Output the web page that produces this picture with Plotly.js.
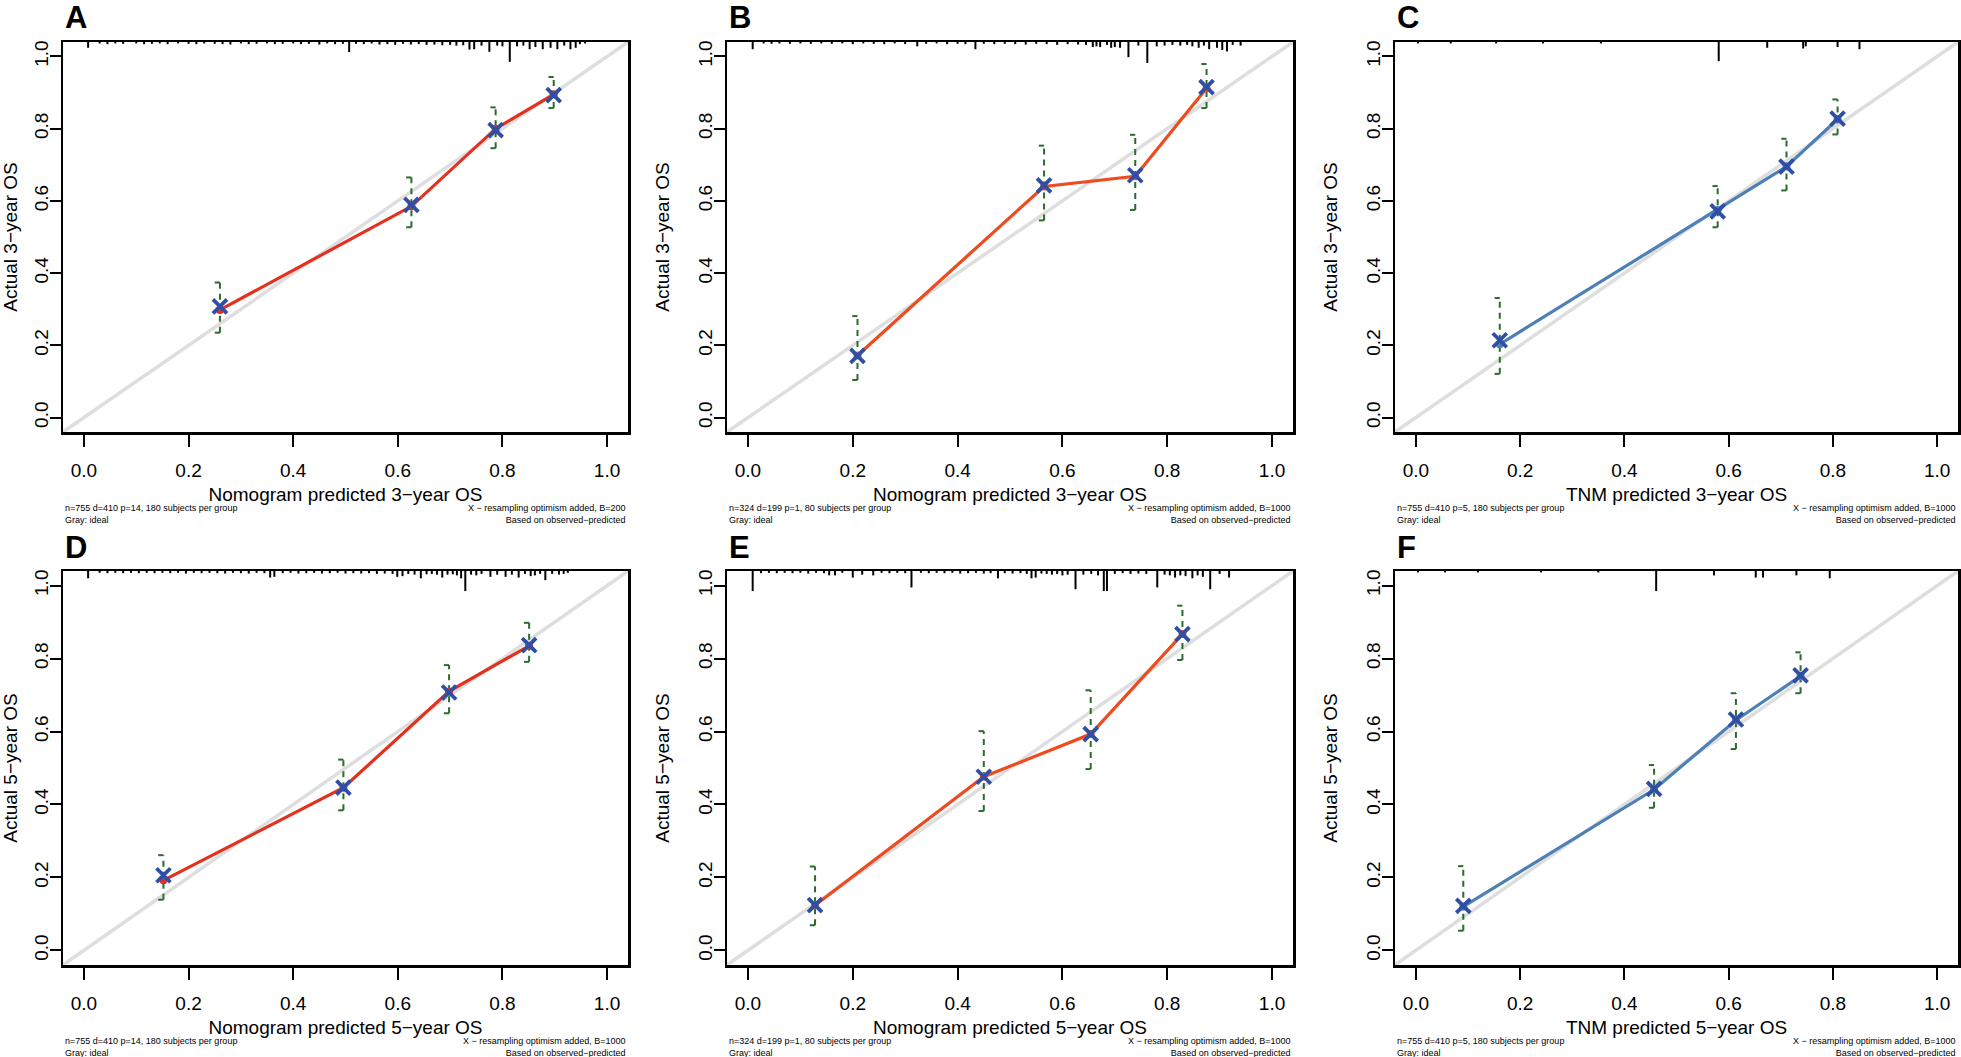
<!DOCTYPE html>
<html>
<head>
<meta charset="utf-8">
<script src="https://cdn.plot.ly/plotly-3.0.1.min.js"></script>
<style>
  body { margin: 0; background: #fff; }
  #chart { width: 1961px; height: 1057px; }
</style>
</head>
<body>
<div id="chart"></div>
<script>
// calibration curves
const tickVals = [0, 0.2, 0.4, 0.6, 0.8, 1.0];
const tickText = ['0.0', '0.2', '0.4', '0.6', '0.8', '1.0'];
const idealLine = [-0.05, 1.05];

const letters = ['A', 'B', 'C', 'D', 'E', 'F'];
const xTitles = [
    'Nomogram predicted 3\u2212year OS', 'Nomogram predicted 3\u2212year OS', 'TNM predicted 3\u2212year OS',
    'Nomogram predicted 5\u2212year OS', 'Nomogram predicted 5\u2212year OS', 'TNM predicted 5\u2212year OS'
];
const yTitles = [
    'Actual 3\u2212year OS', 'Actual 3\u2212year OS', 'Actual 3\u2212year OS',
    'Actual 5\u2212year OS', 'Actual 5\u2212year OS', 'Actual 5\u2212year OS'
];
const notesLeft = [
    'n=755 d=410 p=14, 180 subjects per group',
    'n=324 d=199 p=1, 80 subjects per group',
    'n=755 d=410 p=5, 180 subjects per group',
    'n=755 d=410 p=14, 180 subjects per group',
    'n=324 d=199 p=1, 80 subjects per group',
    'n=755 d=410 p=5, 180 subjects per group'
];
const bootB = [200, 1000, 1000, 1000, 1000, 1000];

// predicted, apparent (line), bias-corrected (X), error bar low / high
const predA = [0.260, 0.626, 0.787, 0.898];
const appA = [0.298, 0.585, 0.800, 0.895];
const corA = [0.308, 0.589, 0.796, 0.893];
const loA = [0.235, 0.527, 0.746, 0.857];
const hiA = [0.374, 0.665, 0.859, 0.943];

const predB = [0.209, 0.565, 0.739, 0.875];
const appB = [0.172, 0.640, 0.668, 0.912];
const corB = [0.171, 0.643, 0.671, 0.915];
const loB = [0.104, 0.546, 0.575, 0.857];
const hiB = [0.281, 0.753, 0.783, 0.979];

const predC = [0.161, 0.579, 0.711, 0.809];
const appC = [0.203, 0.575, 0.695, 0.826];
const corC = [0.214, 0.571, 0.695, 0.828];
const loC = [0.121, 0.527, 0.629, 0.784];
const hiC = [0.331, 0.641, 0.772, 0.881];

const predD = [0.152, 0.496, 0.698, 0.851];
const appD = [0.192, 0.446, 0.710, 0.835];
const corD = [0.206, 0.446, 0.707, 0.837];
const loD = [0.139, 0.384, 0.650, 0.791];
const hiD = [0.261, 0.523, 0.782, 0.898];

const predE = [0.128, 0.450, 0.654, 0.829];
const appE = [0.124, 0.476, 0.593, 0.867];
const corE = [0.124, 0.476, 0.593, 0.867];
const loE = [0.069, 0.382, 0.497, 0.796];
const hiE = [0.230, 0.601, 0.713, 0.945];

const predF = [0.091, 0.457, 0.614, 0.738];
const appF = [0.120, 0.441, 0.631, 0.752];
const corF = [0.122, 0.443, 0.633, 0.754];
const loF = [0.054, 0.391, 0.552, 0.705];
const hiF = [0.231, 0.508, 0.705, 0.817];

// spike histogram of predictions along the top edge (position, spike length)
const rugAx = [0.008, 0.03, 0.045, 0.06, 0.075, 0.1, 0.115, 0.13, 0.145, 0.16, 0.18, 0.2, 0.215, 0.23, 0.25, 0.265, 0.28, 0.3, 0.315, 0.33, 0.35, 0.365, 0.38, 0.4, 0.415, 0.43, 0.45, 0.465, 0.48, 0.495, 0.507, 0.52, 0.535, 0.55, 0.565, 0.58, 0.595, 0.61, 0.625, 0.64, 0.655, 0.67, 0.685, 0.7, 0.712, 0.725, 0.737, 0.746, 0.76, 0.775, 0.79, 0.8, 0.814, 0.828, 0.84, 0.852, 0.863, 0.877, 0.892, 0.905, 0.918, 0.93, 0.94, 0.948, 0.958];
const rugAh = [0.016, 0.004, 0.006, 0.004, 0.005, 0.004, 0.006, 0.005, 0.004, 0.006, 0.004, 0.005, 0.006, 0.004, 0.005, 0.006, 0.007, 0.004, 0.006, 0.005, 0.004, 0.006, 0.005, 0.004, 0.006, 0.005, 0.007, 0.004, 0.006, 0.005, 0.028, 0.005, 0.006, 0.004, 0.007, 0.006, 0.008, 0.005, 0.007, 0.006, 0.008, 0.007, 0.009, 0.008, 0.01, 0.009, 0.021, 0.02, 0.01, 0.027, 0.01, 0.012, 0.055, 0.012, 0.01, 0.02, 0.014, 0.02, 0.016, 0.02, 0.01, 0.02, 0.016, 0.006, 0.004];

const rugBx = [0.009, 0.03, 0.045, 0.06, 0.08, 0.1, 0.12, 0.14, 0.16, 0.18, 0.2, 0.22, 0.24, 0.26, 0.28, 0.3, 0.323, 0.34, 0.36, 0.38, 0.4, 0.415, 0.434, 0.45, 0.47, 0.49, 0.51, 0.53, 0.55, 0.57, 0.59, 0.61, 0.63, 0.645, 0.658, 0.665, 0.672, 0.685, 0.693, 0.7, 0.71, 0.726, 0.745, 0.762, 0.78, 0.795, 0.81, 0.825, 0.838, 0.848, 0.86, 0.87, 0.88, 0.895, 0.905, 0.914, 0.925, 0.94];
const rugBh = [0.02, 0.004, 0.005, 0.004, 0.005, 0.004, 0.005, 0.004, 0.005, 0.004, 0.006, 0.004, 0.005, 0.006, 0.004, 0.006, 0.012, 0.005, 0.004, 0.006, 0.005, 0.006, 0.02, 0.005, 0.006, 0.005, 0.006, 0.007, 0.005, 0.006, 0.008, 0.006, 0.007, 0.008, 0.014, 0.012, 0.014, 0.008, 0.016, 0.014, 0.016, 0.042, 0.01, 0.058, 0.012, 0.01, 0.008, 0.01, 0.008, 0.012, 0.016, 0.01, 0.02, 0.016, 0.022, 0.026, 0.008, 0.01];

const rugCx = [0.004, 0.067, 0.154, 0.244, 0.355, 0.581, 0.674, 0.743, 0.748, 0.809, 0.851];
const rugCh = [0.004, 0.004, 0.004, 0.004, 0.004, 0.053, 0.016, 0.018, 0.012, 0.014, 0.02];

const rugDx = [0.008, 0.03, 0.045, 0.06, 0.075, 0.09, 0.105, 0.12, 0.135, 0.15, 0.165, 0.18, 0.195, 0.21, 0.225, 0.24, 0.255, 0.27, 0.285, 0.3, 0.315, 0.33, 0.345, 0.356, 0.364, 0.38, 0.395, 0.41, 0.425, 0.44, 0.455, 0.47, 0.485, 0.5, 0.515, 0.53, 0.545, 0.56, 0.575, 0.59, 0.599, 0.609, 0.62, 0.632, 0.644, 0.655, 0.665, 0.675, 0.685, 0.695, 0.705, 0.713, 0.721, 0.729, 0.74, 0.75, 0.76, 0.777, 0.79, 0.806, 0.818, 0.831, 0.843, 0.854, 0.862, 0.872, 0.882, 0.895, 0.908, 0.917, 0.925];
const rugDh = [0.02, 0.005, 0.006, 0.005, 0.006, 0.005, 0.006, 0.005, 0.006, 0.005, 0.006, 0.005, 0.007, 0.005, 0.006, 0.005, 0.006, 0.007, 0.005, 0.006, 0.007, 0.005, 0.006, 0.018, 0.016, 0.006, 0.005, 0.007, 0.006, 0.005, 0.007, 0.006, 0.005, 0.007, 0.006, 0.007, 0.006, 0.008, 0.007, 0.008, 0.016, 0.014, 0.008, 0.01, 0.02, 0.009, 0.008, 0.01, 0.018, 0.01, 0.009, 0.012, 0.02, 0.055, 0.01, 0.012, 0.008, 0.016, 0.01, 0.016, 0.01, 0.018, 0.008, 0.014, 0.012, 0.008, 0.025, 0.008, 0.01, 0.008, 0.005];

const rugEx = [0.009, 0.025, 0.04, 0.055, 0.07, 0.085, 0.1, 0.115, 0.13, 0.145, 0.155, 0.166, 0.18, 0.2, 0.218, 0.239, 0.255, 0.27, 0.285, 0.3, 0.312, 0.33, 0.345, 0.36, 0.375, 0.39, 0.405, 0.42, 0.435, 0.45, 0.463, 0.477, 0.49, 0.505, 0.52, 0.532, 0.541, 0.549, 0.56, 0.57, 0.58, 0.59, 0.6, 0.61, 0.625, 0.64, 0.655, 0.668, 0.679, 0.685, 0.7, 0.715, 0.73, 0.745, 0.76, 0.781, 0.795, 0.805, 0.815, 0.825, 0.835, 0.848, 0.858, 0.868, 0.882, 0.9, 0.918];
const rugEh = [0.055, 0.006, 0.005, 0.006, 0.005, 0.006, 0.005, 0.007, 0.005, 0.006, 0.012, 0.012, 0.005, 0.018, 0.01, 0.012, 0.005, 0.006, 0.005, 0.006, 0.045, 0.005, 0.006, 0.005, 0.006, 0.005, 0.007, 0.006, 0.005, 0.007, 0.006, 0.02, 0.006, 0.007, 0.006, 0.008, 0.02, 0.018, 0.007, 0.008, 0.01, 0.008, 0.012, 0.01, 0.05, 0.01, 0.008, 0.012, 0.055, 0.055, 0.008, 0.006, 0.008, 0.007, 0.008, 0.045, 0.01, 0.012, 0.018, 0.012, 0.014, 0.02, 0.012, 0.016, 0.05, 0.008, 0.018];

const rugFx = [0.004, 0.056, 0.119, 0.24, 0.35, 0.461, 0.572, 0.652, 0.666, 0.73, 0.794];
const rugFh = [0.004, 0.004, 0.004, 0.004, 0.004, 0.055, 0.012, 0.018, 0.018, 0.012, 0.02];

const lineColors = ['#e5301d', '#f04a1f', '#4d80b6', '#e5301d', '#f04a1f', '#4d80b6'];

const panels = [
    { pred: predA, app: appA, cor: corA, lo: loA, hi: hiA, rx: rugAx, rh: rugAh },
    { pred: predB, app: appB, cor: corB, lo: loB, hi: hiB, rx: rugBx, rh: rugBh },
    { pred: predC, app: appC, cor: corC, lo: loC, hi: hiC, rx: rugCx, rh: rugCh },
    { pred: predD, app: appD, cor: corD, lo: loD, hi: hiD, rx: rugDx, rh: rugDh },
    { pred: predE, app: appE, cor: corE, lo: loE, hi: hiE, rx: rugEx, rh: rugEh },
    { pred: predF, app: appF, cor: corF, lo: loF, hi: hiF, rx: rugFx, rh: rugFh },
];

// page layout in pixels
const W = 1961, H = 1057;
const cols = [[63, 628], [727, 1293], [1395, 1958]];
const rows = [[42, 432], [571, 965]];
const range = [-0.04, 1.04];
const FONT = 'Liberation Sans, Arial, Helvetica, sans-serif';

const traces = [];
const layout = {
    width: W, height: H,
    margin: { l: 0, r: 0, t: 0, b: 0 },
    paper_bgcolor: 'white', plot_bgcolor: 'white',
    showlegend: false,
    font: { family: FONT, color: 'black' },
    annotations: []
};

panels.forEach((p, i) => {
    const n = i + 1;
    const xa = n === 1 ? 'x' : 'x' + n;
    const ya = n === 1 ? 'y' : 'y' + n;
    const col = cols[i % 3];
    const row = rows[Math.floor(i / 3)];

    layout[n === 1 ? 'xaxis' : 'xaxis' + n] = {
        domain: [col[0] / W, col[1] / W],
        anchor: ya, range: range,
        showline: true, mirror: true, linecolor: 'black', linewidth: 2.5,
        ticks: 'outside', ticklen: 12, tickwidth: 2, tickcolor: 'black',
        tickvals: tickVals, ticktext: tickText,
        tickfont: { size: 19, family: FONT, color: 'black' },
        ticklabelstandoff: 8,
        showgrid: false, zeroline: false,
        title: { text: xTitles[i], font: { size: 19, family: FONT }, standoff: 8 }
    };
    layout[n === 1 ? 'yaxis' : 'yaxis' + n] = {
        domain: [1 - row[1] / H, 1 - row[0] / H],
        anchor: xa, range: range,
        showline: true, mirror: true, linecolor: 'black', linewidth: 2.5,
        ticks: 'outside', ticklen: 11, tickwidth: 2, tickcolor: 'black',
        tickvals: tickVals, ticktext: tickText, tickangle: -90,
        tickfont: { size: 19, family: FONT, color: 'black' },
        ticklabelstandoff: -6,
        showgrid: false, zeroline: false,
        title: { text: yTitles[i], font: { size: 19, family: FONT }, standoff: 21 }
    };

    // ideal line
    traces.push({
        x: idealLine, y: idealLine, xaxis: xa, yaxis: ya,
        mode: 'lines', line: { color: '#dedede', width: 3.5 }, hoverinfo: 'skip'
    });

    // spikes hanging from the top edge
    const sx = [], sy = [];
    p.rx.forEach((v, k) => {
        sx.push(v, v, null);
        sy.push(range[1], range[1] - p.rh[k], null);
    });
    traces.push({
        x: sx, y: sy, xaxis: xa, yaxis: ya,
        mode: 'lines', line: { color: 'black', width: 2 }, hoverinfo: 'skip'
    });

    // error bars: dashed verticals with small caps on the left
    const ex = [], ey = [], cx = [], cy = [];
    p.pred.forEach((v, k) => {
        ex.push(v, v, null);
        ey.push(p.lo[k], p.hi[k], null);
        cx.push(v - 0.01, v, null, v - 0.01, v, null);
        cy.push(p.lo[k], p.lo[k], null, p.hi[k], p.hi[k], null);
    });
    traces.push({
        x: ex, y: ey, xaxis: xa, yaxis: ya,
        mode: 'lines', line: { color: '#2b6b2e', width: 2, dash: '6px,5px' }, hoverinfo: 'skip'
    });
    traces.push({
        x: cx, y: cy, xaxis: xa, yaxis: ya,
        mode: 'lines', line: { color: '#2b6b2e', width: 2 }, hoverinfo: 'skip'
    });

    // apparent calibration
    traces.push({
        x: p.pred, y: p.app, xaxis: xa, yaxis: ya,
        mode: 'lines+markers',
        line: { color: lineColors[i], width: 3.2 },
        marker: { color: lineColors[i], size: 8, symbol: 'circle' }
    });

    // bias-corrected
    traces.push({
        x: p.pred, y: p.cor, xaxis: xa, yaxis: ya,
        mode: 'markers',
        marker: { symbol: 'x-thin', size: 14, line: { color: '#2f4fa7', width: 3.8 } }
    });

    // panel letter
    layout.annotations.push({
        xref: 'paper', yref: 'paper', x: col[0] / W, y: 1 - (row[0] - 24) / H,
        xanchor: 'left', yanchor: 'middle', showarrow: false,
        text: '<b>' + letters[i] + '</b>', font: { size: 31, family: FONT, color: 'black' }
    });
    // footnotes
    layout.annotations.push({
        xref: 'paper', yref: 'paper', x: col[0] / W, y: 1 - (row[1] + 82) / H,
        xanchor: 'left', yanchor: 'middle', align: 'left', showarrow: false,
        text: notesLeft[i] + '<br>Gray: ideal', font: { size: 9, family: FONT, color: 'black' }
    });
    layout.annotations.push({
        xref: 'paper', yref: 'paper', x: col[1] / W, y: 1 - (row[1] + 82) / H,
        xanchor: 'right', yanchor: 'middle', align: 'right', showarrow: false,
        text: 'X \u2212 resampling optimism added, B=' + bootB[i] + '<br>Based on observed\u2212predicted',
        font: { size: 9, family: FONT, color: 'black' }
    });
});

Plotly.newPlot('chart', traces, layout, { displayModeBar: false, staticPlot: true });
</script>
</body>
</html>
